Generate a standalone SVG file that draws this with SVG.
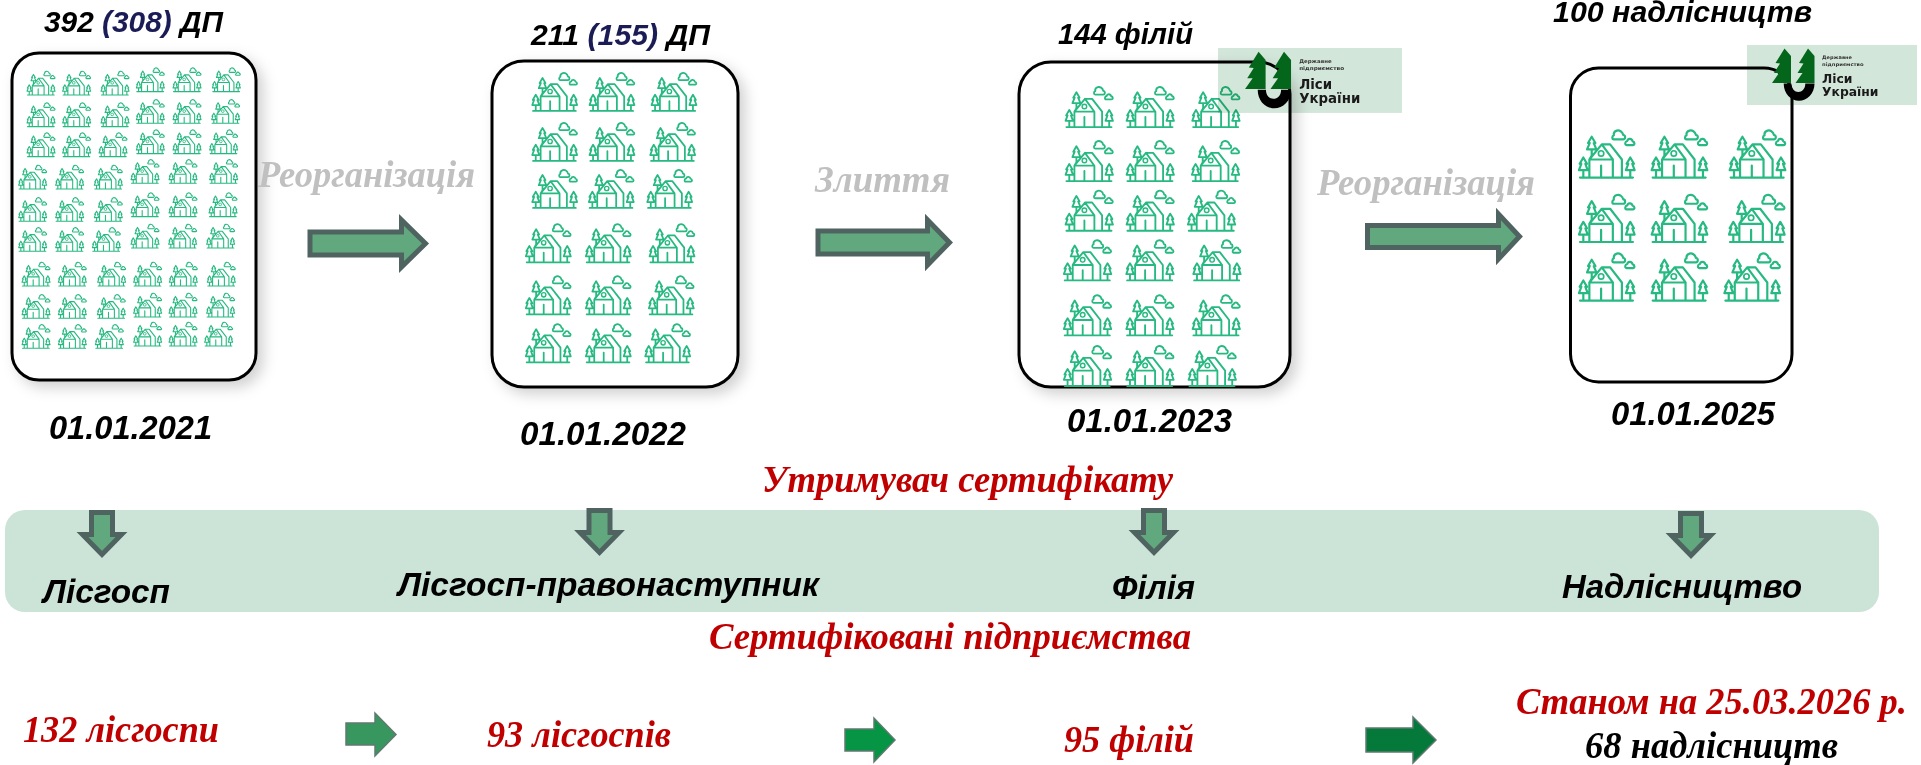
<svg xmlns="http://www.w3.org/2000/svg" width="1921" height="765" viewBox="0 0 1921 765">
<style>
.panel{fill:#fff;stroke:#000;stroke-width:3}
.hd{font:italic bold 30px "Liberation Sans",Arial,sans-serif;fill:#000}
.dt{font:italic bold 33px "Liberation Sans",Arial,sans-serif;fill:#000}
.bd{font:italic bold 33px "Liberation Sans",Arial,sans-serif;fill:#000}
.gr{font:italic bold 37px "Liberation Serif","Times New Roman",serif;fill:#c0c0c0}
.rd{font:italic bold 38px "Liberation Serif","Times New Roman",serif;fill:#c00000}
.bk{font:italic bold 38px "Liberation Serif","Times New Roman",serif;fill:#000}
.blu{fill:#1b1b55}
.arr{fill:#62a87e;stroke:#4f6460;stroke-width:5}
.sm{stroke:#5f7a70;stroke-width:1.5}
.lbg{fill:#d3e6da;mix-blend-mode:multiply}
.ltr{fill:#04661a}
.lt1{font:bold 4.8px "DejaVu Sans",sans-serif;fill:#333}
.lt2{font:bold 13px "DejaVu Sans",sans-serif;fill:#1a1a1a}
</style>
<defs>
<filter id="sh" x="-10%" y="-10%" width="125%" height="125%"><feDropShadow dx="6" dy="6" stdDeviation="7" flood-color="#000" flood-opacity=".18"/></filter>
<symbol id="h" viewBox="0 0 170 150" overflow="visible">
<path fill="none" stroke="#26b981" stroke-width="6.500" stroke-linejoin="round" stroke-linecap="round" d="M5 144H163M33 144V90H103V144M103 144H130V90L95 45H70L33 90M70 45L103 90M68 144V108M33 90L40 78M40 60V78M40 22L51 41H46L54 60H26L34 41H29ZM15 84L26 103H21L28 122H2L9 103H4ZM15 122V144M155 84L166 103H161L168 122H142L149 103H144ZM155 122V144M106 30H134C141 30 142 18 134 17C132 6 122 2 115 4C108 6 105 12 106 18C100 20 100 30 106 30ZM144 47H163C169 47 169 37 162 36C160 27 148 26 146 35C139 36 138 47 144 47Z"/>
<circle cx="68" cy="72" r="8" fill="none" stroke="#26b981" stroke-width="5"/>
</symbol>
<g id="lg">
<path class="ltr" d="M37.500 3.500L44 11V38H25L32 28L27 28L33 18.500L28.500 18Z"/>
<path class="ltr" d="M61 3.500L67.500 11V38H48.500L55.500 28L50.500 28L56.500 18.500L52 18Z"/>
<path fill="#000" d="M36.700 38.500H44.300C44.300 44 48 47 51.300 47C55 47 58.300 44 58.300 38.500H67.500C67.500 49 60 55.700 52 55.700C44 55.700 36.700 49 36.700 38.500Z"/>
</g>
</defs>
<g id="panel-2021">
<rect class="panel" x="12" y="53" width="244" height="327" rx="27" filter="url(#sh)"/>
<g id="icons-2021">
<use href="#h" x="26.7" y="70.7" width="28.7" height="25.300"/><use href="#h" x="62.3" y="70.7" width="28.7" height="25.300"/><use href="#h" x="100.700" y="70.7" width="28.7" height="25.300"/><use href="#h" x="136" y="67.3" width="28.7" height="25.300"/><use href="#h" x="172.700" y="67.3" width="28.7" height="25.300"/><use href="#h" x="212" y="67.3" width="28.7" height="25.300"/>
<use href="#h" x="26.7" y="102.3" width="28.7" height="25.300"/><use href="#h" x="62.3" y="102.3" width="28.7" height="25.300"/><use href="#h" x="100.700" y="102.3" width="28.7" height="25.300"/><use href="#h" x="136" y="99" width="28.7" height="25.300"/><use href="#h" x="172.700" y="99" width="28.7" height="25.300"/><use href="#h" x="211.300" y="99" width="28.7" height="25.300"/>
<use href="#h" x="26.7" y="132.3" width="28.7" height="25.300"/><use href="#h" x="62.3" y="132.3" width="28.7" height="25.300"/><use href="#h" x="98.700" y="132.3" width="28.7" height="25.300"/><use href="#h" x="136" y="129.3" width="28.7" height="25.300"/><use href="#h" x="172.700" y="129.3" width="28.7" height="25.300"/><use href="#h" x="209.300" y="129.3" width="28.7" height="25.300"/>
<use href="#h" x="18.3" y="164.7" width="28.7" height="25.300"/><use href="#h" x="55.3" y="164.7" width="28.7" height="25.300"/><use href="#h" x="94" y="164.7" width="28.7" height="25.300"/><use href="#h" x="130.700" y="159" width="28.7" height="25.300"/><use href="#h" x="168.700" y="159" width="28.7" height="25.300"/><use href="#h" x="209.300" y="159" width="28.7" height="25.300"/>
<use href="#h" x="18.3" y="197" width="28.7" height="25.300"/><use href="#h" x="55.3" y="197" width="28.7" height="25.300"/><use href="#h" x="94" y="197" width="28.7" height="25.300"/><use href="#h" x="130.700" y="192.3" width="28.7" height="25.300"/><use href="#h" x="168.700" y="192.3" width="28.7" height="25.300"/><use href="#h" x="208.700" y="192.3" width="28.7" height="25.300"/>
<use href="#h" x="18.3" y="227" width="28.7" height="25.300"/><use href="#h" x="55.3" y="227" width="28.7" height="25.300"/><use href="#h" x="92" y="227" width="28.7" height="25.300"/><use href="#h" x="130.700" y="223.7" width="28.7" height="25.300"/><use href="#h" x="168.300" y="223.7" width="28.7" height="25.300"/><use href="#h" x="206.300" y="223.7" width="28.7" height="25.300"/>
<use href="#h" x="21.7" y="261.7" width="28.7" height="25.300"/><use href="#h" x="58" y="261.7" width="28.7" height="25.300"/><use href="#h" x="97.300" y="261.7" width="28.7" height="25.300"/><use href="#h" x="133.300" y="261.7" width="28.7" height="25.300"/><use href="#h" x="169" y="261.7" width="28.7" height="25.300"/><use href="#h" x="207" y="261.7" width="28.7" height="25.300"/>
<use href="#h" x="21.7" y="294" width="28.7" height="25.300"/><use href="#h" x="58" y="294" width="28.7" height="25.300"/><use href="#h" x="97" y="294" width="28.7" height="25.300"/><use href="#h" x="133.300" y="292.700" width="28.7" height="25.300"/><use href="#h" x="168.700" y="292.700" width="28.7" height="25.300"/><use href="#h" x="206.300" y="292.700" width="28.7" height="25.300"/>
<use href="#h" x="21.7" y="324" width="28.7" height="25.300"/><use href="#h" x="58" y="324" width="28.7" height="25.300"/><use href="#h" x="95" y="324" width="28.7" height="25.300"/><use href="#h" x="133.300" y="321.700" width="28.7" height="25.300"/><use href="#h" x="168.700" y="321.700" width="28.7" height="25.300"/><use href="#h" x="204.300" y="321.700" width="28.7" height="25.300"/>
</g>
<text class="hd" x="44" y="32" textLength="179" lengthAdjust="spacingAndGlyphs">392 <tspan class="blu">(308)</tspan> ДП</text>
<text class="dt" x="49" y="439" textLength="163" lengthAdjust="spacingAndGlyphs">01.01.2021</text>
</g>
<g id="panel-2022">
<rect class="panel" x="492" y="61" width="246" height="326" rx="32" filter="url(#sh)"/>
<g id="icons-2022">
<use href="#h" x="531.700" y="72" width="46" height="40.600"/><use href="#h" x="589" y="72" width="46" height="40.600"/><use href="#h" x="651" y="72" width="46" height="40.600"/>
<use href="#h" x="531.700" y="122" width="46" height="40.600"/><use href="#h" x="589" y="122" width="46" height="40.600"/><use href="#h" x="649.700" y="122" width="46" height="40.600"/>
<use href="#h" x="531.700" y="169" width="46" height="40.600"/><use href="#h" x="588.300" y="169" width="46" height="40.600"/><use href="#h" x="646.700" y="169" width="46" height="40.600"/>
<use href="#h" x="525.300" y="223.300" width="46" height="40.600"/><use href="#h" x="585.300" y="223.300" width="46" height="40.600"/><use href="#h" x="649" y="223.300" width="46" height="40.600"/>
<use href="#h" x="525.300" y="275.300" width="46" height="40.600"/><use href="#h" x="585.300" y="275.300" width="46" height="40.600"/><use href="#h" x="648.300" y="275.300" width="46" height="40.600"/>
<use href="#h" x="525.300" y="323.300" width="46" height="40.600"/><use href="#h" x="585.300" y="323.300" width="46" height="40.600"/><use href="#h" x="644.700" y="323.300" width="46" height="40.600"/>
</g>
<text class="hd" x="531" y="45" textLength="179" lengthAdjust="spacingAndGlyphs">211 <tspan class="blu">(155)</tspan> ДП</text>
<text class="dt" x="520" y="445" textLength="166" lengthAdjust="spacingAndGlyphs">01.01.2022</text>
</g>
<g id="panel-2023">
<rect class="panel" x="1019" y="62" width="271" height="325" rx="32" filter="url(#sh)"/>
<g id="icons-2023">
<use href="#h" x="1065" y="86" width="48.500" height="42.800"/><use href="#h" x="1126" y="86" width="48.500" height="42.800"/><use href="#h" x="1191.700" y="86" width="48.500" height="42.800"/>
<use href="#h" x="1065" y="140" width="48.500" height="42.800"/><use href="#h" x="1126" y="140" width="48.500" height="42.800"/><use href="#h" x="1191.300" y="140" width="48.500" height="42.800"/>
<use href="#h" x="1065" y="189.700" width="48.500" height="42.800"/><use href="#h" x="1126" y="189.700" width="48.500" height="42.800"/><use href="#h" x="1187.300" y="189.700" width="48.500" height="42.800"/>
<use href="#h" x="1063.300" y="239.300" width="48.500" height="42.800"/><use href="#h" x="1125.700" y="239.300" width="48.500" height="42.800"/><use href="#h" x="1192.700" y="239.300" width="48.500" height="42.800"/>
<use href="#h" x="1063.300" y="294.300" width="48.500" height="42.800"/><use href="#h" x="1125.700" y="294.300" width="48.500" height="42.800"/><use href="#h" x="1192" y="294.300" width="48.500" height="42.800"/>
<use href="#h" x="1063.300" y="345" width="48.500" height="42.800"/><use href="#h" x="1125.700" y="345" width="48.500" height="42.800"/><use href="#h" x="1188" y="345" width="48.500" height="42.800"/>
</g>
<text class="hd" x="1058" y="44" textLength="135" lengthAdjust="spacingAndGlyphs">144 філій</text>
<text class="dt" x="1067" y="432" textLength="165" lengthAdjust="spacingAndGlyphs">01.01.2023</text>
</g>
<g id="logo-2023" transform="translate(1218 48) scale(1.082)">
<rect class="lbg" width="170" height="60"/>
<use href="#lg"/>
<text class="lt1" x="75" y="13.500" textLength="30" lengthAdjust="spacingAndGlyphs">Державне</text>
<text class="lt1" x="75" y="20.500" textLength="41.600" lengthAdjust="spacingAndGlyphs">підприємство</text>
<text class="lt2" x="75" y="37.500" textLength="30.500" lengthAdjust="spacingAndGlyphs">Ліси</text>
<text class="lt2" x="75" y="51" textLength="56.500" lengthAdjust="spacingAndGlyphs">України</text>
</g>
<g id="panel-2025">
<rect class="panel" x="1570.500" y="68" width="221.500" height="314" rx="28"/>
<g id="icons-2025">
<use href="#h" x="1578.300" y="129.300" width="57" height="50.300"/><use href="#h" x="1651" y="129.300" width="57" height="50.300"/><use href="#h" x="1729" y="129.300" width="57" height="50.300"/>
<use href="#h" x="1578.300" y="193.700" width="57" height="50.300"/><use href="#h" x="1651" y="193.700" width="57" height="50.300"/><use href="#h" x="1728.300" y="193.700" width="57" height="50.300"/>
<use href="#h" x="1578.300" y="252.300" width="57" height="50.300"/><use href="#h" x="1651" y="252.300" width="57" height="50.300"/><use href="#h" x="1723.700" y="252.300" width="57" height="50.300"/>
</g>
<text class="hd" x="1553" y="22" textLength="259" lengthAdjust="spacingAndGlyphs">100 надлісництв</text>
<text class="dt" x="1611" y="425" textLength="164" lengthAdjust="spacingAndGlyphs">01.01.2025</text>
</g>
<g id="logo-2025" transform="translate(1747 45)">
<rect class="lbg" width="170" height="60"/>
<use href="#lg"/>
<text class="lt1" x="75" y="13.500" textLength="30" lengthAdjust="spacingAndGlyphs">Державне</text>
<text class="lt1" x="75" y="20.500" textLength="41.600" lengthAdjust="spacingAndGlyphs">підприємство</text>
<text class="lt2" x="75" y="37.500" textLength="30.500" lengthAdjust="spacingAndGlyphs">Ліси</text>
<text class="lt2" x="75" y="51" textLength="56.500" lengthAdjust="spacingAndGlyphs">України</text>
</g>
<g id="transitions">
<text class="gr" x="258" y="187" textLength="217" lengthAdjust="spacingAndGlyphs">Реорганізація</text>
<text class="gr" x="815" y="192" textLength="135" lengthAdjust="spacingAndGlyphs">Злиття</text>
<text class="gr" x="1317" y="195" textLength="218" lengthAdjust="spacingAndGlyphs">Реорганізація</text>
</g>
<g id="certificate-holder">
<rect x="5" y="510" width="1874" height="102" rx="20" fill="#cce3d8"/>
<text class="rd" x="762" y="492" textLength="411" lengthAdjust="spacingAndGlyphs">Утримувач сертифікату</text>
<text class="bd" x="43" y="603" textLength="127" lengthAdjust="spacingAndGlyphs">Лісгосп</text>
<text class="bd" x="398" y="596" textLength="421" lengthAdjust="spacingAndGlyphs">Лісгосп-правонаступник</text>
<text class="bd" x="1112" y="599" textLength="83" lengthAdjust="spacingAndGlyphs">Філія</text>
<text class="bd" x="1562" y="598" textLength="240" lengthAdjust="spacingAndGlyphs">Надлісництво</text>
</g>
<g id="certified">
<text class="rd" x="709" y="649" textLength="482" lengthAdjust="spacingAndGlyphs">Сертифіковані підприємства</text>
<text class="rd" x="23" y="742" textLength="196" lengthAdjust="spacingAndGlyphs">132 лісгоспи</text>
<text class="rd" x="487" y="747" textLength="184" lengthAdjust="spacingAndGlyphs">93 лісгоспів</text>
<text class="rd" x="1064" y="752" textLength="130" lengthAdjust="spacingAndGlyphs">95 філій</text>
<text class="rd" x="1516" y="714" textLength="391" lengthAdjust="spacingAndGlyphs">Станом на 25.03.2026 р.</text>
<text class="bk" x="1585" y="758" textLength="253" lengthAdjust="spacingAndGlyphs">68 надлісництв</text>
</g>
<g id="connectors">
<path class="arr" d="M310 232H401.500V220L425.500 243.500L401.500 267V255H310Z"/>
<path class="arr" d="M818 231H927.500V220L949.500 242.500L927.500 265V254H818Z"/>
<path class="arr" d="M1367.500 225.500H1498.500V214L1519.500 236.500L1498.500 259V247.500H1367.500Z"/>
<path class="arr" d="M91.500 512.500V534.500H82.500L102 554.500L121.500 534.500H112.500V512.500Z"/>
<path class="arr" d="M589 510.500V532.500H580L599.500 552.500L619 532.500H610V510.500Z"/>
<path class="arr" d="M1143.500 510.500V532.500H1134.500L1154 552.500L1173.500 532.500H1164.500V510.500Z"/>
<path class="arr" d="M1680.500 513.500V535.500H1671.500L1691 555.500L1710.500 535.500H1701.500V513.500Z"/>
<path class="sm" fill="#38965f" d="M346 723H375V713L396 734.500L375 756V745H346Z"/>
<path class="sm" fill="#059545" d="M845 729H874V718L895 740L874 762V751H845Z"/>
<path class="sm" fill="#05793a" d="M1366 728H1413V717L1436 740L1413 763V752H1366Z"/>
</g>
</svg>
